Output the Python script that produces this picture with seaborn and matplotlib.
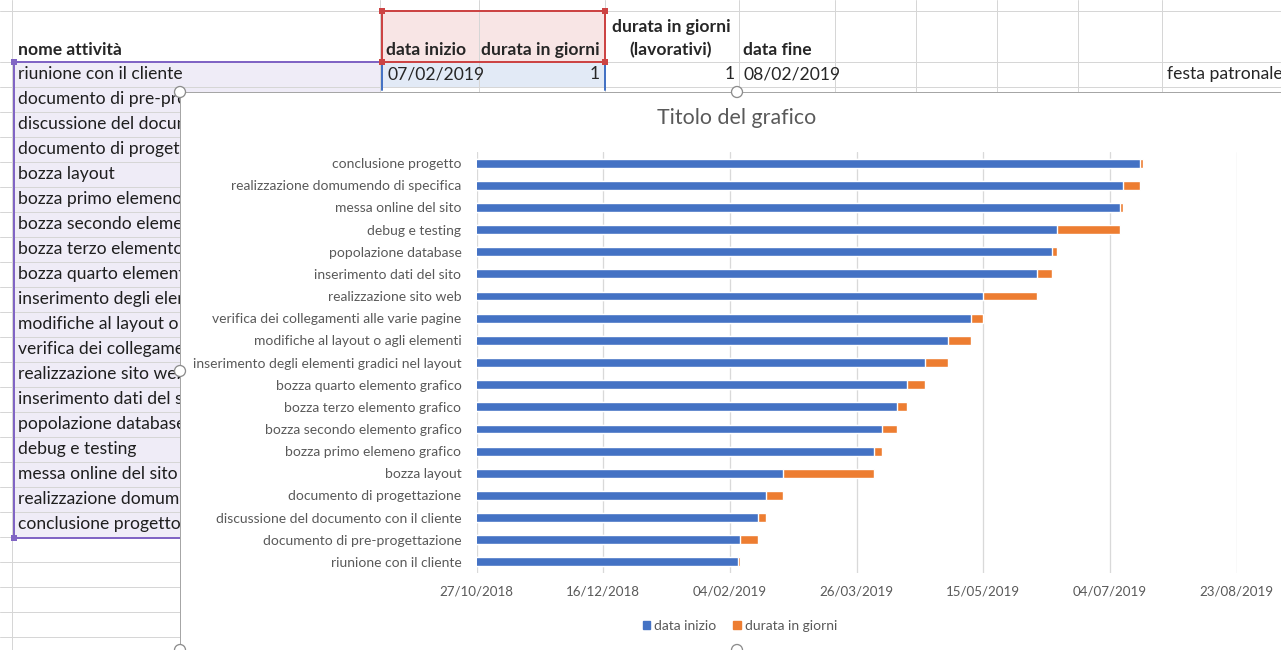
import matplotlib
matplotlib.use("Agg")
import matplotlib.pyplot as plt
import matplotlib.dates as mdates
from matplotlib.patches import Rectangle, Circle, Patch
from matplotlib.transforms import Bbox
import pandas as pd
import seaborn as sns

# attività del progetto (ordine del foglio)
tasks = ['riunione con il cliente', 'documento di pre-progettazione',
         'discussione del documento con il cliente', 'documento di progettazione',
         'bozza layout', 'bozza primo elemeno grafico', 'bozza secondo elemento grafico',
         'bozza terzo elemento grafico', 'bozza quarto elemento grafico',
         'inserimento degli elementi gradici nel layout', 'modifiche al layout o agli elementi',
         'verifica dei collegamenti alle varie pagine', 'realizzazione sito web',
         'inserimento dati del sito', 'popolazione database', 'debug e testing',
         'messa online del sito', 'realizzazione domumendo di specifica', 'conclusione progetto']
start_dates = ['07/02/2019', '08/02/2019', '15/02/2019', '18/02/2019', '25/02/2019',
               '02/04/2019', '05/04/2019', '11/04/2019', '15/04/2019', '22/04/2019',
               '01/05/2019', '10/05/2019', '15/05/2019', '05/06/2019', '11/06/2019',
               '13/06/2019', '08/07/2019', '09/07/2019', '16/07/2019']
durations = [1, 7, 3, 7, 36, 3, 6, 4, 7, 9, 9, 5, 21, 6, 2, 25, 1, 7, 1]
tick_labels = ['27/10/2018', '16/12/2018', '04/02/2019', '26/03/2019',
               '15/05/2019', '04/07/2019', '23/08/2019']

# riga 1 del foglio
header = ['nome attività', 'data inizio', 'durata in giorni', 'durata in giorni\n(lavorativi)', 'data fine']
row1 = ['riunione con il cliente', '07/02/2019', '1', '1', '08/02/2019', 'festa patronale']

BLUE = '#4472C4'
ORANGE = '#ED7D31'
GREY_TXT = '#595959'
GRID = '#d9d9d9'
W, H = 1281, 650

sns.set_style('white')
plt.rcParams['font.family'] = ['Lato', 'DejaVu Sans']

df = pd.DataFrame({'task': tasks, 'start': pd.to_datetime(start_dates, dayfirst=True), 'dur': durations})
df['start_num'] = mdates.date2num(df['start'])
df['end_num'] = df['start_num'] + df['dur']

fig = plt.figure(figsize=(W / 100, H / 100), dpi=100)
renderer = fig.canvas.get_renderer()

# --- foglio di calcolo sullo sfondo (coordinate in pixel) ---
bg = fig.add_axes([0, 0, 1, 1])
bg.set_xlim(0, W)
bg.set_ylim(H, 0)
bg.axis('off')

px = 0.72
row_lines = [11, 62] + [62 + 25 * i for i in range(1, 24)]
col_lines = [12, 380, 479, 605, 739, 835, 916, 997, 1078, 1162]

# riempimenti selezione
bg.add_patch(Rectangle((14, 62), 366, 475, facecolor='#efecf7', edgecolor='none', zorder=1))
bg.add_patch(Rectangle((382, 11), 223, 51, facecolor='#f8e5e5', edgecolor='none', zorder=1))
bg.add_patch(Rectangle((382, 62), 223, 26, facecolor='#e2eaf6', edgecolor='none', zorder=1))

for y in row_lines:
    bg.plot([0, W], [y, y], color='#d6d6d6', lw=px, zorder=2)
for x in col_lines:
    bg.plot([x, x], [0, H], color='#d6d6d6', lw=px, zorder=2)

# bordi selezione
red = '#cc4444'
bg.add_patch(Rectangle((382, 11), 223, 51, facecolor='none', edgecolor=red, lw=2 * px, zorder=3))
for cx, cy in [(382, 11), (605, 11), (382, 62), (605, 62)]:
    bg.add_patch(Rectangle((cx - 3, cy - 3), 6, 6, facecolor=red, edgecolor='none', zorder=4))
bg.plot([382, 382], [62, 90], color=BLUE, lw=2 * px, zorder=3)
bg.plot([605, 605], [62, 90], color=BLUE, lw=2 * px, zorder=3)
purple = '#8064c4'
bg.plot([14, 380], [62, 62], color=purple, lw=2 * px, zorder=3)
bg.plot([14, 14], [62, 538], color=purple, lw=2 * px, zorder=3)
bg.plot([14, 380], [538, 538], color=purple, lw=2 * px, zorder=3)
for cx, cy in [(14, 62), (14, 538)]:
    bg.add_patch(Rectangle((cx - 3, cy - 3), 6, 6, facecolor=purple, edgecolor='none', zorder=4))

fs_sheet = 12.6
bg.text(18, 55, header[0], fontsize=fs_sheet, fontweight='bold', va='baseline', zorder=5)
bg.text(386, 55, header[1], fontsize=fs_sheet, fontweight='bold', va='baseline', zorder=5)
bg.text(481, 55, header[2], fontsize=fs_sheet, fontweight='bold', va='baseline', zorder=5)
bg.text(671, 55, header[3], fontsize=fs_sheet, fontweight='bold', va='baseline', ha='center',
        multialignment='center', linespacing=1.5, zorder=5)
bg.text(743, 55, header[4], fontsize=fs_sheet, fontweight='bold', va='baseline', zorder=5)

bg.text(387, 74, row1[1], fontsize=fs_sheet, va='center', zorder=5)
bg.text(600, 74, row1[2], fontsize=fs_sheet, va='center', ha='right', zorder=5)
bg.text(735, 74, row1[3], fontsize=fs_sheet, va='center', ha='right', zorder=5)
bg.text(743, 74, row1[4], fontsize=fs_sheet, va='center', zorder=5)
bg.text(1167, 74, row1[5], fontsize=fs_sheet, va='center', zorder=5)

# colonna A: sotto il grafico il testo resta tagliato al bordo (x = 180)
clip = Bbox.from_extents(0, 0, 180, H)
for i, name in enumerate(tasks):
    t = bg.text(18, 74 + 25 * i, name, fontsize=fs_sheet, va='center', zorder=5, color='#1f1f1f')
    if i == 0:
        continue
    n = len(name)
    while n > 1:
        t.set_text(name[:n - 1])
        if t.get_window_extent(renderer).x1 < 180:
            break
        n -= 1
    t.set_text(name[:n])
    t.set_clip_box(clip)
    t.set_clip_on(True)

# area del grafico
bg.add_patch(Rectangle((180, 92), 1120, 600, facecolor='white', edgecolor='#a6a6a6', lw=px, zorder=10))
for cx, cy in [(180, 92), (737, 92), (180, 371), (180, 650), (737, 650)]:
    bg.add_patch(Circle((cx, cy), 5.5, facecolor='white', edgecolor='#8c8c8c', lw=1.3 * px, zorder=11))

# --- grafico di Gantt ---
ax = fig.add_axes([476.7 / W, 1 - 573 / H, 760 / W, (573 - 152) / H])
ax.set_facecolor('white')
order = tasks[::-1]
sns.barplot(data=df, x='end_num', y='task', order=order, color=ORANGE, saturation=1,
            width=0.4, errorbar=None, ax=ax, zorder=3)
sns.barplot(data=df, x='start_num', y='task', order=order, color=BLUE, saturation=1,
            width=0.4, errorbar=None, ax=ax, zorder=4)

ticks = mdates.date2num(pd.to_datetime(tick_labels, dayfirst=True))
ax.set_xlim(ticks[0], ticks[-1])
ax.set_xticks(ticks)
ax.set_xticklabels(tick_labels)
ax.grid(axis='x', color=GRID, lw=1.3 * px, zorder=0)
ax.grid(axis='y', visible=False)
for s in ax.spines.values():
    s.set_visible(False)
ax.tick_params(axis='both', length=0, labelcolor=GREY_TXT)
ax.tick_params(axis='y', pad=11, labelsize=10.0)
ax.tick_params(axis='x', pad=9, labelsize=9.6)
ax.set_xlabel('')
ax.set_ylabel('')

fig.text(737 / W, 1 - 118 / H, 'Titolo del grafico', fontsize=15.4, color=GREY_TXT,
         ha='center', va='center')
fig.legend(handles=[Patch(color=BLUE, label='data inizio'), Patch(color=ORANGE, label='durata in giorni')],
           loc='center', bbox_to_anchor=(740 / W, 1 - 626 / H), ncol=2, frameon=False,
           fontsize=10.0, labelcolor=GREY_TXT, handlelength=0.55, handleheight=0.55,
           handletextpad=0.3, columnspacing=1.2)

fig.savefig('out.png', dpi=100)
